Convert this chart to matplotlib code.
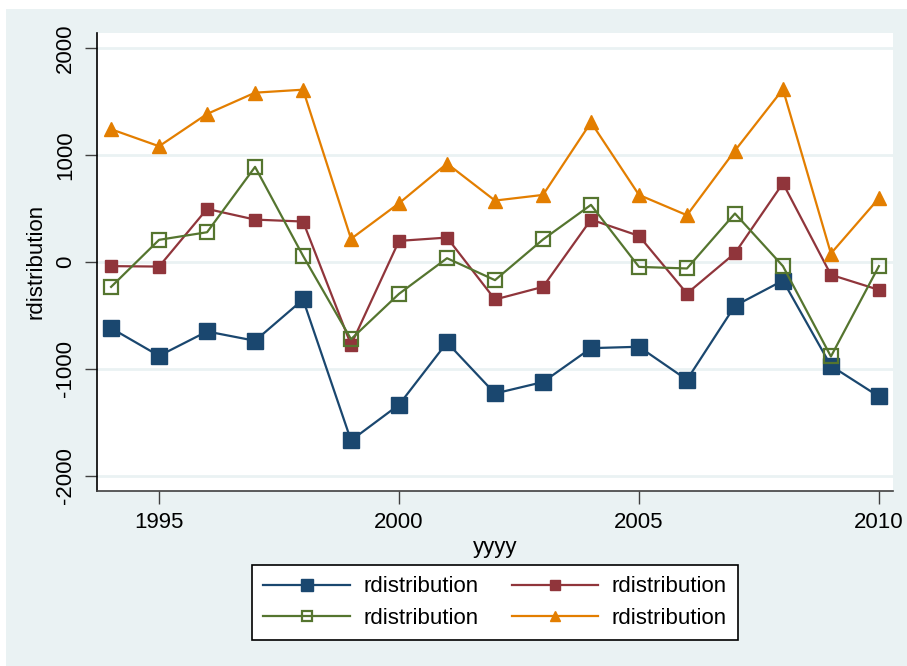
import matplotlib
matplotlib.use("Agg")
import matplotlib.pyplot as plt
from matplotlib.patches import Rectangle
from matplotlib.lines import Line2D

plt.rcParams['font.family'] = ['Liberation Sans', 'DejaVu Sans']

years = list(range(1994, 2011))
series_blue = [-620, -879, -651, -738, -352, -1670, -1336, -754, -1231, -1124, -807, -794, -1103, -411, -175, -972, -1259]
series_red = [-40, -44, 495, 395, 377, -776, 196, 227, -352, -234, 395, 243, -296, 81, 735, -121, -262]
series_green = [-234, 206, 277, 888, 56, -723, -299, 34, -171, 209, 533, -47, -62, 452, -40, -885, -40]
series_orange = [1240, 1081, 1383, 1582, 1610, 215, 548, 919, 573, 626, 1305, 626, 436, 1040, 1614, 78, 595]
labels = ["rdistribution"] * 4
xticks = [1995, 2000, 2005, 2010]
yticks = [-2000, -1000, 0, 1000, 2000]

BG = '#EAF2F3'
navy = '#1A476F'
maroon = '#90353B'
green = '#55752F'
orange = '#E37E00'

fig = plt.figure(figsize=(9.07, 6.66), dpi=100, facecolor='white')
fig.patches.append(Rectangle((6/907, 0), 1 - 6/907, 1 - 9/666, transform=fig.transFigure,
                             facecolor=BG, edgecolor='none', zorder=-10))

ax = fig.add_axes([96.7/907, (666-490.7)/666, (893.3-96.7)/907, (490.7-33)/666])
ax.set_facecolor('white')

lw = 1.6
ax.plot(years, series_blue, color=navy, lw=lw, marker='s', ms=11, mfc=navy, mec=navy, label=labels[0], zorder=3)
ax.plot(years, series_red, color=maroon, lw=lw, marker='s', ms=8, mfc=maroon, mec=maroon, label=labels[1], zorder=3)
ax.plot(years, series_green, color=green, lw=lw, marker='s', ms=10, mfc='none', mec=green, mew=1.6, label=labels[2], zorder=3)
ax.plot(years, series_orange, color=orange, lw=lw, marker='^', ms=10, mfc=orange, mec=orange, label=labels[3], zorder=3)

ax.set_xlim(1993.70, 2010.30)
ax.set_ylim(-2140, 2140)
ax.set_xticks(xticks)
ax.set_yticks(yticks)
ax.set_yticklabels([str(v) for v in yticks], rotation=90, va='center')
ax.yaxis.grid(True, color=BG, lw=2)
ax.set_axisbelow(True)

for s in ['top', 'right']:
    ax.spines[s].set_visible(False)
ax.spines['left'].set_color('black')
ax.spines['bottom'].set_color('#404040')
ax.spines['left'].set_linewidth(1.2)
ax.spines['bottom'].set_linewidth(1.2)

ax.tick_params(axis='both', direction='out', length=9, width=1, color='#404040', labelsize=16, pad=6)
ax.set_xlabel('yyyy', fontsize=16, labelpad=3)
ax.set_ylabel('rdistribution', fontsize=16, labelpad=6)

handles = [
    Line2D([], [], color=navy, lw=lw, marker='s', ms=9, mfc=navy, mec=navy),
    Line2D([], [], color=green, lw=lw, marker='s', ms=7, mfc='none', mec=green, mew=1.6),
    Line2D([], [], color=maroon, lw=lw, marker='s', ms=7, mfc=maroon, mec=maroon),
    Line2D([], [], color=orange, lw=lw, marker='^', ms=7, mfc=orange, mec=orange),
]
leg_labels = [labels[0], labels[2], labels[1], labels[3]]
leg = fig.legend(handles, leg_labels, ncol=2, loc='center',
                 bbox_to_anchor=(495/907, (666-602.5)/666), fontsize=16,
                 frameon=True, fancybox=False, edgecolor='black', facecolor='white',
                 handlelength=3.9, handletextpad=0.6, columnspacing=1.5,
                 borderpad=0.5, labelspacing=0.45, framealpha=1)
leg.get_frame().set_linewidth(1.2)

fig.savefig('out.png', dpi=100, facecolor=fig.get_facecolor())
